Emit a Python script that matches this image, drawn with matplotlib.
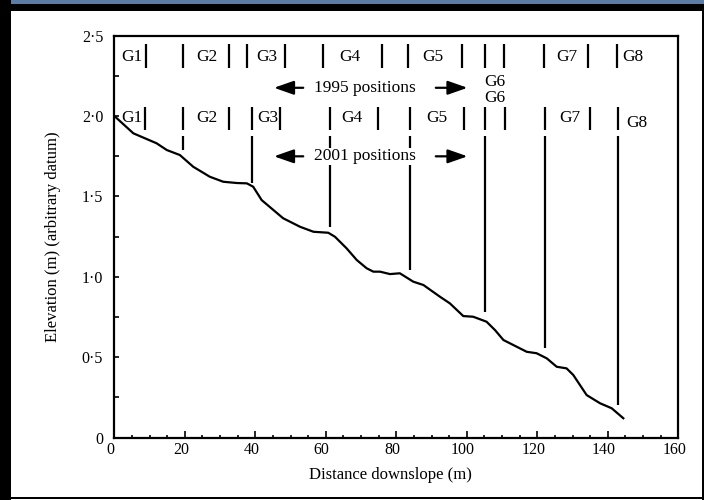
import matplotlib
matplotlib.use("Agg")
import matplotlib.pyplot as plt
import matplotlib.transforms as mtransforms
from matplotlib.patches import Rectangle
from matplotlib.ticker import MultipleLocator

# Perfil de elevação medido (distância em m, elevação em m)
profile_x = [0.0, 5.4, 12.0, 14.9, 18.6, 22.4, 27.1, 30.9, 34.8, 37.6, 39.4, 41.8,
             47.9, 52.7, 56.5, 60.7, 62.6, 65.9, 68.8, 71.6, 73.5, 75.4, 78.2, 81.0,
             84.8, 87.7, 92.4, 95.2, 99.0, 101.8, 105.6, 108.0, 110.4, 113.2, 117.0,
             119.8, 122.7, 125.5, 128.3, 130.2, 134.0, 137.8, 141.1, 144.4]
profile_y = [2.00, 1.892, 1.830, 1.788, 1.757, 1.684, 1.622, 1.591, 1.583, 1.581, 1.560, 1.477,
             1.364, 1.311, 1.280, 1.274, 1.249, 1.177, 1.104, 1.053, 1.032, 1.032, 1.017, 1.022,
             0.970, 0.949, 0.876, 0.835, 0.756, 0.752, 0.721, 0.669, 0.607, 0.576, 0.534,
             0.525, 0.493, 0.441, 0.431, 0.390, 0.265, 0.214, 0.183, 0.121]

# Limites das calhas (gutters) em 1995 e 2001
edges_1995 = [8.9, 19.4, 32.5, 37.6, 48.4, 59.1, 75.9, 83.2, 98.6, 105.2, 110.6, 122.0, 134.4, 142.5]
edges_2001 = [8.7, 19.6, 32.5, 39.0, 47.0, 61.2, 74.9, 83.9, 99.2, 105.2, 110.8, 122.2, 134.9, 142.9]

# Linhas longas de 2001 descendo até o perfil
long_x = [19.6, 39.0, 61.2, 83.9, 105.2, 122.2, 142.9]
long_bottom = [1.788, 1.583, 1.311, 1.042, 0.783, 0.557, 0.203]

gauge_names = ["G1", "G2", "G3", "G4", "G5", "G7", "G8"]
label_x_1995 = [4.9, 26.2, 43.2, 66.9, 90.4, 128.3, 147.2]
label_x_2001 = [4.9, 26.2, 43.6, 67.3, 91.5, 129.3, 148.2]
label_y_2001 = [1.987, 1.987, 1.987, 1.987, 1.987, 1.987, 1.956]

x_ticks = [0, 20, 40, 60, 80, 100, 120, 140, 160]
y_ticks = [0, 0.5, 1.0, 1.5, 2.0, 2.5]
y_tick_labels = ["0", "0·5", "1·0", "1·5", "2·0", "2·5"]


def draw_frame(fig):
    """Moldura escura em volta da figura (captura de tela)."""
    W, H = 704.0, 500.0
    boxes = [
        (0, 0, W, 4, "#5c7ca4"),          # faixa azul no topo
        (0, 4, W, 7, "black"),            # faixa preta no topo
        (0, 0, 11, H, "black"),           # borda esquerda
        (0, 496.5, W, 2, "black"),        # linha inferior
        (702, 4, 2, H, "black"),          # borda direita
    ]
    for x, y, w, h, c in boxes:
        fig.patches.append(Rectangle((x / W, 1 - (y + h) / H), w / W, h / H,
                                     transform=fig.transFigure, facecolor=c,
                                     edgecolor="none", zorder=10))


def create_profile_plot(output_image):
    plt.rcParams["font.family"] = ["Liberation Serif", "DejaVu Serif"]

    fig = plt.figure(figsize=(7.04, 5.0), dpi=100)
    fig.patch.set_facecolor("white")
    ax = fig.add_axes([114.3 / 704, 1 - 437.7 / 500, 564 / 704, 402.2 / 500])

    # Perfil
    ax.plot(profile_x, profile_y, color="black", lw=1.6, solid_joinstyle="round")

    # 1995: linhas curtas
    ax.vlines(edges_1995, 2.298, 2.447, color="black", lw=1.6)
    # 2001: linhas curtas + linhas longas até o perfil
    ax.vlines(edges_2001, 1.912, 2.055, color="black", lw=1.6)
    ax.vlines(long_x, long_bottom, 1.875, color="black", lw=1.6)

    fs = 12.5
    for name, x in zip(gauge_names, label_x_1995):
        ax.text(x, 2.368, name, fontsize=fs, ha="center", va="center")
    for name, x, y in zip(gauge_names, label_x_2001, label_y_2001):
        ax.text(x, y, name, fontsize=fs, ha="center", va="center")
    ax.text(108.0, 2.213, "G6", fontsize=fs, ha="center", va="center")
    ax.text(108.0, 2.109, "G6", fontsize=fs, ha="center", va="center")

    # Setas e textos das posições (fundo branco esconde as linhas verticais)
    arrow = dict(arrowstyle="-|>,head_length=0.8,head_width=0.28", color="black",
                 lw=1.6, shrinkA=0, shrinkB=0, mutation_scale=15)
    for y, label in [(2.175, "1995 positions"), (1.749, "2001 positions")]:
        ax.text(71.0, y, label, fontsize=12.5, ha="center", va="center", zorder=5,
                bbox=dict(facecolor="white", edgecolor="none", pad=0.5))
        ax.annotate("", xy=(45.3, y), xytext=(53.6, y), arrowprops=arrow)
        ax.annotate("", xy=(100.2, y), xytext=(91.2, y), arrowprops=arrow)

    # Eixos
    ax.set_xlim(0, 160)
    ax.set_ylim(0, 2.5)
    ax.set_xticks(x_ticks)
    ax.xaxis.set_minor_locator(MultipleLocator(5))
    ax.set_yticks(y_ticks)
    ax.set_yticklabels(y_tick_labels)
    ax.yaxis.set_minor_locator(MultipleLocator(0.25))

    ax.tick_params(axis="x", which="major", direction="in", length=5, width=1.2,
                   labelsize=11.5, pad=3, top=False)
    ax.tick_params(axis="x", which="minor", direction="in", length=2.5, width=1.2, top=False)
    ax.tick_params(axis="y", which="both", direction="in", length=3.6, width=1.2,
                   labelsize=11.5, pad=8, right=False)

    # rótulos do eixo x ligeiramente deslocados para a esquerda
    shift = mtransforms.ScaledTranslation(-4 / 100, 0, fig.dpi_scale_trans)
    for lab in ax.get_xticklabels():
        lab.set_transform(lab.get_transform() + shift)

    for sp in ax.spines.values():
        sp.set_linewidth(1.6)

    ax.set_xlabel("Distance downslope (m)", fontsize=12)
    ax.set_ylabel("Elevation (m) (arbitrary datum)", fontsize=12)
    ax.xaxis.set_label_coords(0.49, -0.073)
    ax.yaxis.set_label_coords(-0.095, 0.5)

    draw_frame(fig)

    fig.savefig(output_image, dpi=100)
    plt.close(fig)


if __name__ == "__main__":
    create_profile_plot("out.png")
